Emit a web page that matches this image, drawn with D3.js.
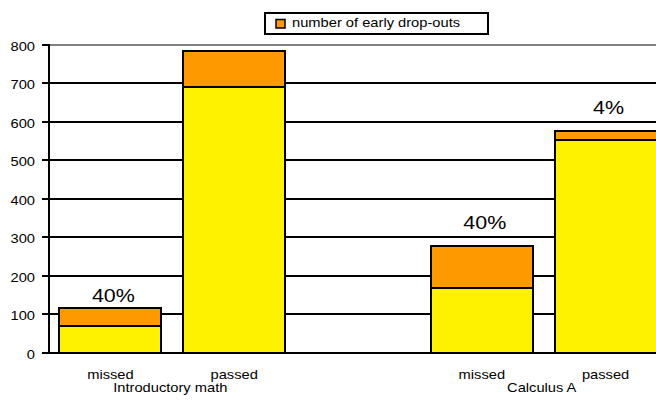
<!DOCTYPE html>
<html><head><meta charset="utf-8">
<script src="https://cdn.jsdelivr.net/npm/d3@7"></script>
<style>
html,body{margin:0;padding:0;background:#fff;}
svg{display:block;font-family:"Liberation Sans",Arial,sans-serif;}
</style></head>
<body>
<svg id="chart" width="656" height="402"></svg>
<script>
// ---- data ----
const categories = ["missed", "passed", "", "missed", "passed"];
const groups = ["Introductory math", "", "Calculus A"];
const completed = [68, 689, null, 167, 553];      // yellow series
const earlyDropouts = [47, 94, null, 109, 22];    // orange series
const pctLabels = ["40%", "", "", "40%", "4%"];
const pctLabelAt = [132, null, null, 322, 620];   // value at which each label sits
const yTicks = [0, 100, 200, 300, 400, 500, 600, 700, 800];
const legendLabel = "number of early drop-outs";

const svg = d3.select("#chart");
const SX = 1.13; // horizontal stretch of text seen in reference

const keys = d3.range(categories.length);
const x = d3.scaleBand().domain(keys).range([48.5, 667.5]).paddingInner(0.16).paddingOuter(0.08);
const y = d3.scaleLinear().domain([0, 800]).range([352.5, 44.5]);

function txt(g, xx, yy, s, size, anchor) {
  return g.append("text")
    .attr("transform", `translate(${xx},${yy}) scale(${SX},1)`)
    .attr("text-anchor", anchor || "middle")
    .attr("font-size", size)
    .attr("fill", "#000")
    .text(s);
}

// gridlines
const grid = svg.append("g");
yTicks.forEach(t => {
  grid.append("line")
    .attr("x1", 42).attr("x2", 670)
    .attr("y1", Math.round(y(t))).attr("y2", Math.round(y(t)))
    .attr("stroke", t === 800 ? "#808080" : "#000")
    .attr("stroke-width", 2);
  // tick mark in black
  grid.append("line")
    .attr("x1", 42).attr("x2", 49)
    .attr("y1", Math.round(y(t))).attr("y2", Math.round(y(t)))
    .attr("stroke", "#000").attr("stroke-width", 2);
  txt(svg, 35, Math.round(y(t)) + 6, String(t), 13, "end");
});
// y axis line
svg.append("line")
  .attr("x1", 49).attr("x2", 49)
  .attr("y1", Math.round(y(800)) - 1).attr("y2", Math.round(y(0)) + 1)
  .attr("stroke", "#000").attr("stroke-width", 2);

// stacked bars
const stackData = keys.map(i => ({i, a: completed[i], b: earlyDropouts[i]}));
const stack = d3.stack().keys(["a", "b"]).value((d, k) => d[k] == null ? 0 : d[k]);
const series = stack(stackData);
const colors = {a: "#FFF200", b: "#FF9900"};
series.forEach(s => {
  svg.append("g").selectAll("rect")
    .data(s.filter(d => d.data.a != null))
    .join("rect")
    .attr("x", d => Math.round(x(d.data.i)) + 1)
    .attr("width", Math.round(x.bandwidth()) - 2)
    .attr("y", d => Math.round(y(d[1])))
    .attr("height", d => Math.round(y(d[0])) - Math.round(y(d[1])))
    .attr("fill", colors[s.key])
    .attr("stroke", "#000")
    .attr("stroke-width", 2);
});

// percentage labels
keys.forEach(i => {
  if (pctLabels[i]) txt(svg, x(i) + x.bandwidth() / 2 + 3, y(pctLabelAt[i]), pctLabels[i], 19);
});

// category labels
keys.forEach(i => {
  if (categories[i]) txt(svg, x(i) + x.bandwidth() / 2, 379, categories[i], 13);
});
// group labels centred under their pairs
[[0, 1, groups[0]], [3, 4, groups[2]]].forEach(([a, b, s]) => {
  const cx = (x(a) + x(b) + x.bandwidth()) / 2;
  txt(svg, cx - 2, 392, s, 13);
});

// legend
const lg = svg.append("g");
lg.append("rect").attr("x", 265).attr("y", 13).attr("width", 223).attr("height", 21)
  .attr("fill", "#fff").attr("stroke", "#000").attr("stroke-width", 2);
lg.append("rect").attr("x", 276).attr("y", 19.5).attr("width", 9).attr("height", 8.5)
  .attr("fill", colors.b).attr("stroke", "#000").attr("stroke-width", 1.5);
txt(lg, 292, 27, legendLabel, 13, "start");
</script>
</body></html>
